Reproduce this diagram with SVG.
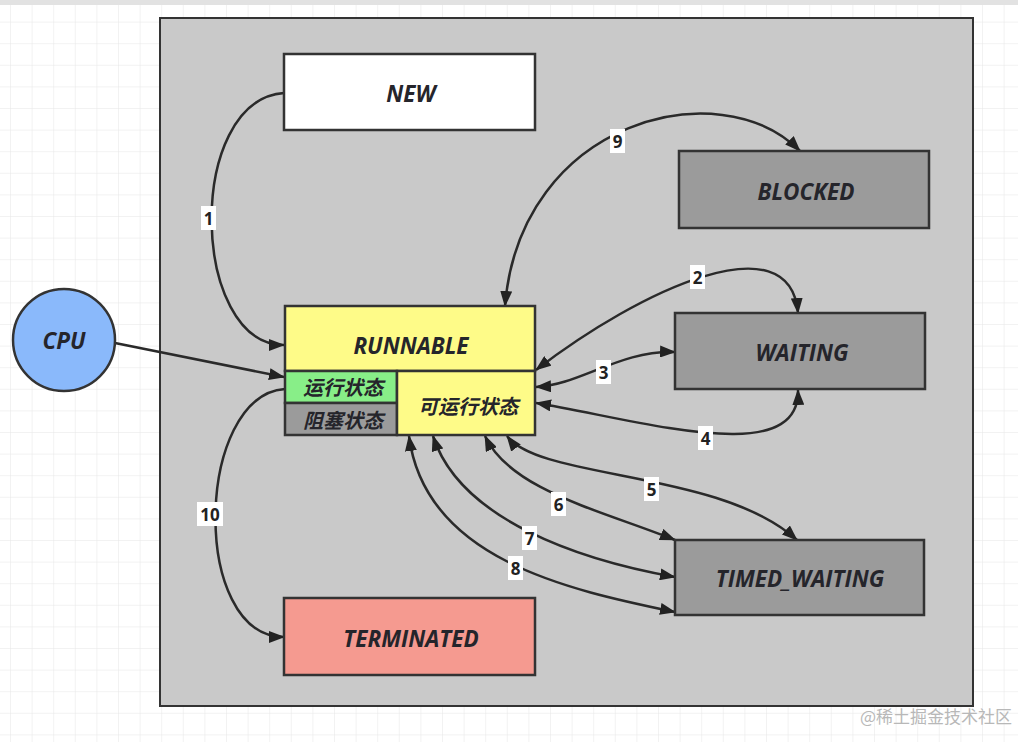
<svg xmlns="http://www.w3.org/2000/svg" width="1018" height="742" viewBox="0 0 1018 742">
<defs>
<pattern id="grid" width="21.6" height="21.6" patternUnits="userSpaceOnUse" x="10" y="0">
<path d="M21.6,0 L0,0 L0,21.6" fill="none" stroke="#e6e6e6" stroke-width="1"/>
</pattern>
<marker id="ah" viewBox="0 0 16 12" refX="15" refY="6" markerWidth="16" markerHeight="12" markerUnits="userSpaceOnUse" orient="auto-start-reverse">
<path d="M0,0 L16,6 L0,12 Z" fill="#222"/>
</marker>
<style>
.box{stroke:#333;stroke-width:2.5}
.t{font-family:"Open Sans","Liberation Sans",sans-serif;font-weight:bold;font-style:italic;font-size:22.5px;fill:#25252b;text-anchor:middle;dominant-baseline:central}
.cn{font-family:"Open Sans","Noto Sans CJK SC",sans-serif;font-weight:bold;font-style:italic;font-size:20px;fill:#25252b;text-anchor:middle;dominant-baseline:central}
.e{fill:none;stroke:#2a2a2a;stroke-width:2.5}
.lb{fill:#fff}
.lt{font-family:"Open Sans","Liberation Sans",sans-serif;font-weight:bold;font-size:17px;fill:#222;text-anchor:middle;dominant-baseline:central}
</style>
</defs>
<rect width="1018" height="742" fill="#fff"/>
<rect width="1018" height="742" fill="url(#grid)"/>
<rect x="0" y="0" width="1018" height="5" fill="#e2e2e2"/>
<g id="panel"><rect x="160" y="18" width="813" height="688" fill="#c9c9c9" stroke="#333" stroke-width="2"/></g>

<g id="connectors">
<path class="e" d="M284,93 C185,100 190,345 284,345" marker-end="url(#ah)"/>
<path class="e" d="M115,343 L284,377" marker-end="url(#ah)"/>
<path class="e" d="M285,389 C195,395 190,637 284,637" marker-end="url(#ah)"/>
<path class="e" d="M505,306 C520,120 720,70 800,151" marker-start="url(#ah)" marker-end="url(#ah)"/>
<path class="e" d="M536,370 C640,290 790,220 798,313" marker-start="url(#ah)" marker-end="url(#ah)"/>
<path class="e" d="M536,387 C580,385 620,350 675,352" marker-start="url(#ah)" marker-end="url(#ah)"/>
<path class="e" d="M536,403 C640,420 800,470 798,390" marker-start="url(#ah)" marker-end="url(#ah)"/>
<path class="e" d="M507,436 C540,480 720,470 797,540" marker-start="url(#ah)" marker-end="url(#ah)"/>
<path class="e" d="M485,436 C510,490 600,510 675,540" marker-start="url(#ah)" marker-end="url(#ah)"/>
<path class="e" d="M433,436 C460,520 580,560 675,577" marker-start="url(#ah)" marker-end="url(#ah)"/>
<path class="e" d="M409,436 C425,560 570,590 675,612" marker-start="url(#ah)" marker-end="url(#ah)"/>
<g id="labels">
<rect class="lb" x="201" y="206" width="15" height="24"/><text class="lt" x="208.5" y="218">1</text>
<rect class="lb" x="690" y="265" width="15" height="24"/><text class="lt" x="697.5" y="277">2</text>
<rect class="lb" x="596" y="360" width="15" height="24"/><text class="lt" x="603.5" y="372">3</text>
<rect class="lb" x="698" y="426" width="15" height="24"/><text class="lt" x="705.5" y="438">4</text>
<rect class="lb" x="644" y="477" width="15" height="24"/><text class="lt" x="651.5" y="489">5</text>
<rect class="lb" x="551" y="492" width="15" height="24"/><text class="lt" x="558.5" y="504">6</text>
<rect class="lb" x="522" y="526" width="15" height="24"/><text class="lt" x="529.5" y="538">7</text>
<rect class="lb" x="508" y="556" width="15" height="24"/><text class="lt" x="515.5" y="568">8</text>
<rect class="lb" x="610" y="129" width="15" height="24"/><text class="lt" x="617.5" y="141">9</text>
<rect class="lb" x="197" y="502" width="26" height="24"/><text class="lt" x="210" y="514">10</text>
</g>
</g>

<g id="node-new"><rect class="box" x="284" y="54" width="251" height="76" fill="#fff"/><text class="t" x="411" y="93">NEW</text></g>
<g id="node-blocked"><rect class="box" x="679" y="151" width="250" height="77" fill="#9b9b9b"/><text class="t" x="806" y="191">BLOCKED</text></g>
<g id="node-waiting"><rect class="box" x="675" y="313" width="250" height="76" fill="#9b9b9b"/><text class="t" x="802" y="352">WAITING</text></g>
<g id="node-timed"><rect class="box" x="675" y="540" width="249" height="75" fill="#9b9b9b"/><text class="t" x="800" y="578">TIMED_WAITING</text></g>
<g id="node-terminated"><rect class="box" x="284" y="598" width="251" height="77" fill="#f59a90"/><text class="t" x="411" y="638">TERMINATED</text></g>
<g id="node-runnable">
<rect class="box" x="285" y="306" width="250" height="65" fill="#fefb88"/>
<text class="t" x="411" y="345">RUNNABLE</text>
<rect class="box" x="285" y="371" width="112" height="32" fill="#88ee88"/>
<text class="cn" x="343" y="387">运行状态</text>
<rect class="box" x="285" y="403" width="112" height="32" fill="#9b9b9b"/>
<text class="cn" x="343" y="420">阻塞状态</text>
<rect class="box" x="397" y="371" width="138" height="64" fill="#fefb88"/>
<text class="cn" x="468" y="406">可运行状态</text>
</g>
<g id="node-cpu"><circle cx="64" cy="340" r="51" fill="#8ab9fb" stroke="#333" stroke-width="2.5"/><text class="t" x="64" y="340">CPU</text></g>
<text x="1012" y="723" text-anchor="end" font-family="Noto Sans CJK SC, sans-serif" font-size="17" fill="#b8b8b8">@稀土掘金技术社区</text>
</svg>
